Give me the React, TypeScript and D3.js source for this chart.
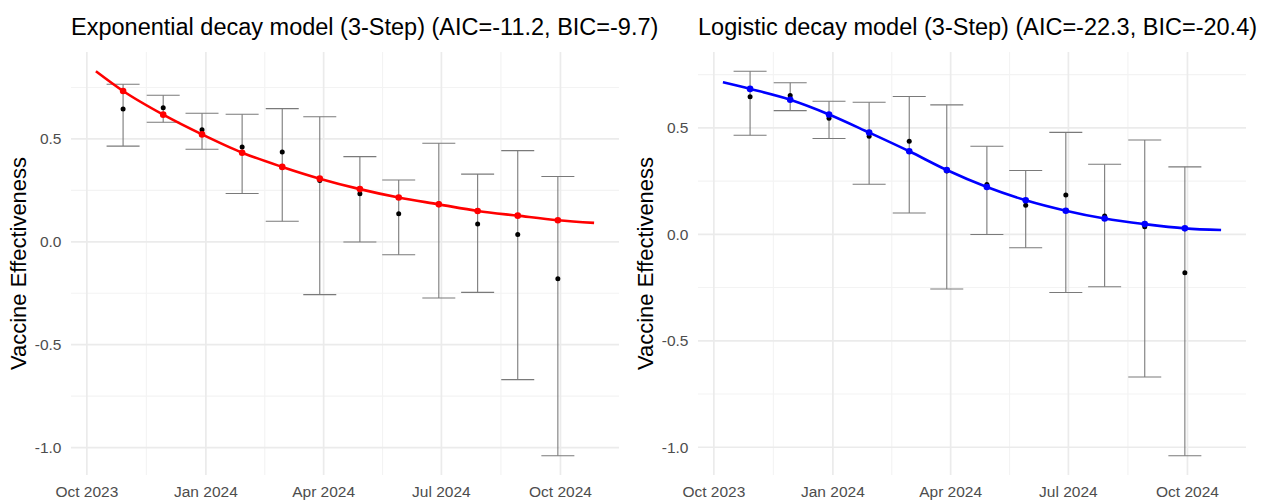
import React from 'react';
import * as d3 from 'd3';

// ---- data ----
const dates = [
  '2023-10-29', '2023-11-29', '2023-12-29', '2024-01-29', '2024-02-29', '2024-03-29',
  '2024-04-29', '2024-05-29', '2024-06-29', '2024-07-29', '2024-08-29', '2024-09-29',
];
const observed = [0.646, 0.652, 0.545, 0.461, 0.437, 0.298, 0.234, 0.136, 0.185, 0.086, 0.036, -0.18];
const ciUpper = [0.766, 0.712, 0.625, 0.62, 0.647, 0.608, 0.414, 0.3, 0.479, 0.329, 0.443, 0.317];
const ciLower = [0.465, 0.581, 0.45, 0.235, 0.1, -0.257, -0.001, -0.063, -0.273, -0.246, -0.67, -1.04];

const expFitted = [0.733, 0.618, 0.522, 0.433, 0.364, 0.307, 0.256, 0.215, 0.182, 0.15, 0.127, 0.105];
const logFitted = [0.683, 0.632, 0.563, 0.478, 0.39, 0.302, 0.222, 0.16, 0.111, 0.074, 0.048, 0.028];

const curveStartDate = '2023-10-08';
const curveEndDate = '2024-10-27';
const expCurveEnds = [0.829, 0.092];
const logCurveEnds = [0.714, 0.02];

const xTickDates = ['2023-10-01', '2024-01-01', '2024-04-01', '2024-07-01', '2024-10-01'];
const xTickLabels = ['Oct 2023', 'Jan 2024', 'Apr 2024', 'Jul 2024', 'Oct 2024'];
const yTicks = [-1, -0.5, 0, 0.5];
const yTickLabels = ['-1.0', '-0.5', '0.0', '0.5'];

const titles = [
  'Exponential decay model (3-Step) (AIC=-11.2, BIC=-9.7)',
  'Logistic decay model (3-Step) (AIC=-22.3, BIC=-20.4)',
];
const yAxisTitle = 'Vaccine Effectiveness';

// ---- layout ----
const W = 1261;
const H = 501;
const FONT = '"Liberation Sans", Arial, Helvetica, sans-serif';
const DAY = 86400000;

const parse = (s: string) => new Date(s + 'T00:00:00Z');

type PanelProps = {
  left: number;
  right: number;
  title: string;
  fitted: number[];
  ends: number[];
  color: string;
  axisTitleX: number;
};

function Panel({ left, right, title, fitted, ends, color, axisTitleX }: PanelProps) {
  const top = 52;
  const bottom = 475;

  const cStart = parse(curveStartDate);
  const cEnd = parse(curveEndDate);
  const span = cEnd.getTime() - cStart.getTime();
  const x = d3
    .scaleUtc()
    .domain([new Date(cStart.getTime() - span * 0.05), new Date(cEnd.getTime() + span * 0.05)])
    .range([left, right]);

  const allY = [...ciLower, ...ciUpper, ...observed, ...fitted, ...ends];
  const [ymin, ymax] = d3.extent(allY) as [number, number];
  const yr = ymax - ymin;
  const y = d3.scaleLinear().domain([ymin - yr * 0.05, ymax + yr * 0.05]).range([bottom, top]);

  const dts = dates.map(parse);
  const curvePts: [Date, number][] = [
    [cStart, ends[0]],
    ...dts.map((d, i) => [d, fitted[i]] as [Date, number]),
    [cEnd, ends[1]],
  ];
  const line = d3
    .line<[Date, number]>()
    .x((d) => x(d[0]))
    .y((d) => y(d[1]))
    .curve(d3.curveMonotoneX);

  const majorX = xTickDates.map(parse);
  const ext = [
    new Date(majorX[0].getTime() - 92 * DAY),
    ...majorX,
    new Date(majorX[majorX.length - 1].getTime() + 92 * DAY),
  ];
  const [dx0, dx1] = x.domain();
  const minorX = d3
    .pairs(ext)
    .map(([a, b]) => new Date((a.getTime() + b.getTime()) / 2))
    .filter((d) => d >= dx0 && d <= dx1);
  const [dy0, dy1] = y.domain();
  const minorY = [-1.25, -0.75, -0.25, 0.25, 0.75].filter((v) => v >= dy0 && v <= dy1);

  const capHalf = 12.75 * DAY;

  return (
    <g>
      {/* grid */}
      {minorY.map((v) => (
        <line key={'my' + v} x1={left} x2={right} y1={y(v)} y2={y(v)} stroke="#f3f3f3" strokeWidth={1.1} />
      ))}
      {minorX.map((d) => (
        <line key={'mx' + d.getTime()} x1={x(d)} x2={x(d)} y1={top} y2={bottom} stroke="#f3f3f3" strokeWidth={1.1} />
      ))}
      {yTicks.map((v) => (
        <line key={'Y' + v} x1={left} x2={right} y1={y(v)} y2={y(v)} stroke="#ebebeb" strokeWidth={1.7} />
      ))}
      {majorX.map((d) => (
        <line key={'X' + d.getTime()} x1={x(d)} x2={x(d)} y1={top} y2={bottom} stroke="#ebebeb" strokeWidth={1.7} />
      ))}

      {/* tick labels */}
      {yTicks.map((v, i) => (
        <text key={'yl' + v} x={left - 9.5} y={y(v)} dy="0.36em" textAnchor="end" fontSize={15.5} fill="#4d4d4d" fontFamily={FONT}>
          {yTickLabels[i]}
        </text>
      ))}
      {majorX.map((d, i) => (
        <text key={'xl' + i} x={x(d)} y={497} textAnchor="middle" fontSize={15.5} fill="#4d4d4d" fontFamily={FONT}>
          {xTickLabels[i]}
        </text>
      ))}

      {/* axis title */}
      <text
        transform={`translate(${axisTitleX},${(top + bottom) / 2}) rotate(-90)`}
        textAnchor="middle"
        fontSize={22}
        fill="#000"
        fontFamily={FONT}
      >
        {yAxisTitle}
      </text>

      {/* title */}
      <text x={left} y={35} fontSize={23.5} fill="#000" fontFamily={FONT}>
        {title}
      </text>

      {/* error bars */}
      {dts.map((d, i) => {
        const cx = x(d);
        const xl = x(new Date(d.getTime() - capHalf));
        const xr = x(new Date(d.getTime() + capHalf));
        return (
          <g key={'eb' + i} stroke="#7a7a7a" strokeWidth={1.1}>
            <line x1={cx} x2={cx} y1={y(ciUpper[i])} y2={y(ciLower[i])} />
            <line x1={xl} x2={xr} y1={y(ciUpper[i])} y2={y(ciUpper[i])} />
            <line x1={xl} x2={xr} y1={y(ciLower[i])} y2={y(ciLower[i])} />
          </g>
        );
      })}

      {/* observed */}
      {dts.map((d, i) => (
        <circle key={'ob' + i} cx={x(d)} cy={y(observed[i])} r={2.5} fill="#000" />
      ))}

      {/* fitted curve */}
      <path d={line(curvePts) || ''} fill="none" stroke={color} strokeWidth={2.6} />
      {dts.map((d, i) => (
        <circle key={'fp' + i} cx={x(d)} cy={y(fitted[i])} r={3.3} fill={color} />
      ))}
    </g>
  );
}

export default function App() {
  return (
    <svg
      width={W}
      height={H}
      viewBox={`0 0 ${W} ${H}`}
      style={{ position: 'absolute', left: 0, top: 0, background: '#fff' }}
    >
      <rect x={0} y={0} width={W} height={H} fill="#fff" />
      <Panel left={71} right={619} title={titles[0]} fitted={expFitted} ends={expCurveEnds} color="#ff0000" axisTitleX={26} />
      <Panel left={698} right={1246} title={titles[1]} fitted={logFitted} ends={logCurveEnds} color="#0000ff" axisTitleX={653} />
    </svg>
  );
}
